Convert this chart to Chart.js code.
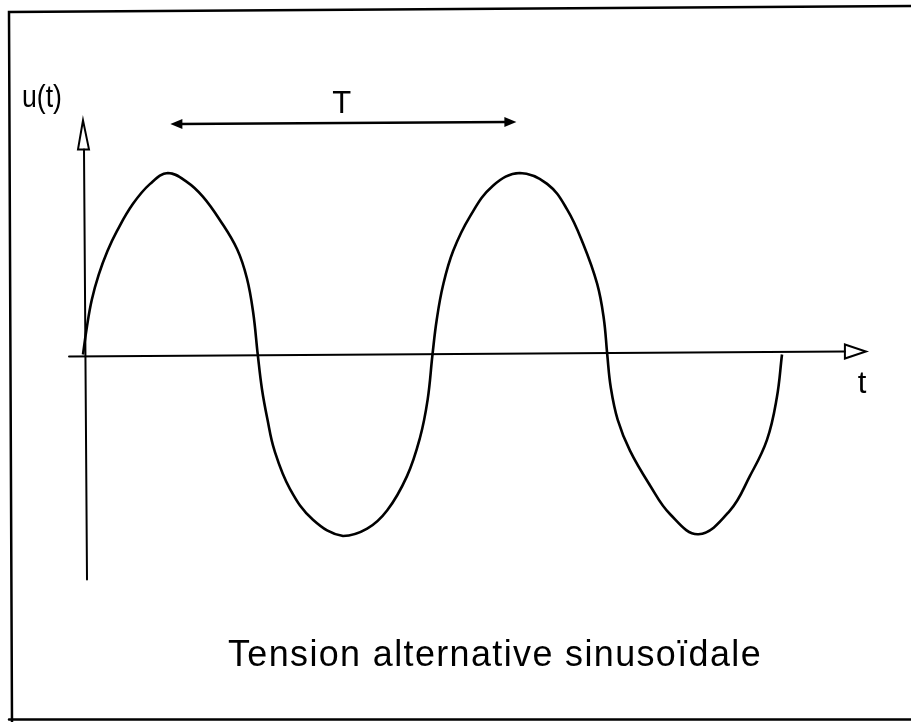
<!DOCTYPE html>
<html>
<head>
<meta charset="utf-8">
<script src="https://cdn.jsdelivr.net/npm/chart.js@4.4.1/dist/chart.umd.min.js"></script>
<style>
  html, body { margin: 0; padding: 0; background: #fff; }
  #wrap { width: 911px; height: 722px; }
</style>
</head>
<body>
<div id="wrap"><canvas id="chartSinus"></canvas></div>
<script>
// temps en fractions de periode T, tension en fraction de l'amplitude
const tValues = [
  0, 0.011, 0.025, 0.045, 0.07, 0.097, 0.143, 0.192, 0.243, 0.298, 0.343, 0.392, 0.441, 0.469, 0.487, 0.5,
  0.512, 0.527, 0.548, 0.592, 0.658, 0.744, 0.813, 0.870, 0.927, 0.964, 0.986, 1.0,
  1.012, 1.03, 1.059, 1.107, 1.173, 1.250, 1.328, 1.385, 1.431, 1.471, 1.490, 1.5,
  1.51, 1.53, 1.565, 1.622, 1.680, 1.761, 1.851, 1.908, 1.957, 1.985, 2.0
];
const uValues = [
  0, 0.15, 0.30, 0.44, 0.57, 0.68, 0.83, 0.94, 1.0, 0.95, 0.87, 0.74, 0.58, 0.42, 0.23, 0,
  -0.19, -0.35, -0.53, -0.74, -0.91, -1.0, -0.96, -0.86, -0.67, -0.46, -0.25, 0,
  0.19, 0.38, 0.57, 0.76, 0.93, 1.0, 0.94, 0.80, 0.61, 0.39, 0.20, 0,
  -0.18, -0.36, -0.53, -0.72, -0.88, -0.99, -0.86, -0.67, -0.47, -0.24, 0
];

const yAxisLabel = 'u(t)';
const xAxisLabel = 't';
const periodLabel = 'T';
const titleText = 'Tension alternative sinusoïdale';

const points = tValues.map((t, i) => ({ x: t, y: uValues[i] }));

// dessin des axes, fleches, etiquettes et cadre
const schemaPlugin = {
  id: 'schema',
  afterDatasetsDraw(chart) {
    const ctx = chart.ctx;
    const xs = chart.scales.x;
    const ys = chart.scales.y;
    const px = v => xs.getPixelForValue(v);
    const py = v => ys.getPixelForValue(v);

    ctx.save();
    ctx.strokeStyle = '#000';
    ctx.fillStyle = '#000';
    ctx.lineCap = 'round';

    // cadre
    ctx.lineWidth = 2.5;
    ctx.beginPath();
    ctx.moveTo(12, 722);
    ctx.lineTo(9, 12);
    ctx.lineTo(911, 6);
    ctx.moveTo(9, 719.5);
    ctx.lineTo(911, 719.5);
    ctx.stroke();

    // axe des temps (legerement incline comme sur le scan)
    const y0 = py(0);
    ctx.lineWidth = 2;
    ctx.beginPath();
    ctx.moveTo(px(-0.04), y0 + 2);
    ctx.lineTo(px(2.18), y0 - 3);
    ctx.stroke();
    ctx.beginPath();
    ctx.moveTo(px(2.18), y0 - 10);
    ctx.lineTo(px(2.24), y0 - 3);
    ctx.lineTo(px(2.18), y0 + 4);
    ctx.closePath();
    ctx.stroke();

    // axe des tensions
    const x0 = px(0);
    ctx.beginPath();
    ctx.moveTo(x0 + 4, py(-1.24));
    ctx.lineTo(x0 + 1, py(1.13));
    ctx.stroke();
    ctx.beginPath();
    ctx.moveTo(x0 - 5, py(1.13));
    ctx.lineTo(x0, py(1.29));
    ctx.lineTo(x0 + 6, py(1.13));
    ctx.closePath();
    ctx.stroke();

    // fleche de la periode
    const ya = py(1.27);
    const xa = px(0.25), xb = px(1.24);
    ctx.lineWidth = 2.5;
    ctx.beginPath();
    ctx.moveTo(xa + 8, ya);
    ctx.lineTo(xb - 8, ya - 2);
    ctx.stroke();
    ctx.beginPath();
    ctx.moveTo(xa, ya);
    ctx.lineTo(xa + 12, ya - 5);
    ctx.lineTo(xa + 12, ya + 5);
    ctx.closePath();
    ctx.fill();
    ctx.beginPath();
    ctx.moveTo(xb, ya - 2);
    ctx.lineTo(xb - 12, ya - 7);
    ctx.lineTo(xb - 12, ya + 3);
    ctx.closePath();
    ctx.fill();

    // textes
    ctx.textAlign = 'center';
    ctx.textBaseline = 'alphabetic';
    ctx.font = '31px "Liberation Sans", "DejaVu Sans", sans-serif';
    ctx.fillText(yAxisLabel, 42, 107, 40);
    ctx.fillText(periodLabel, px(0.74), 113);
    ctx.fillText(xAxisLabel, 862, 393);

    ctx.font = '36px "Liberation Sans", "DejaVu Sans", sans-serif';
    ctx.letterSpacing = '1.4px';
    ctx.textAlign = 'left';
    ctx.fillText(titleText, 228, 666, 534);

    ctx.restore();
  }
};

const ctx = document.getElementById('chartSinus');
new Chart(ctx, {
  type: 'line',
  data: {
    datasets: [{
      data: points,
      borderColor: '#000',
      borderWidth: 2.6,
      pointRadius: 0,
      fill: false,
      clip: 10,
      tension: 0.4
    }]
  },
  options: {
    responsive: true,
    maintainAspectRatio: false,
    animation: false,
    layout: {
      padding: { left: 83, right: 129, top: 173, bottom: 186 }
    },
    scales: {
      x: { type: 'linear', min: 0, max: 2, display: false },
      y: { min: -1, max: 1, display: false }
    },
    plugins: {
      legend: { display: false },
      tooltip: { enabled: false }
    }
  },
  plugins: [schemaPlugin]
});
</script>
</body>
</html>
